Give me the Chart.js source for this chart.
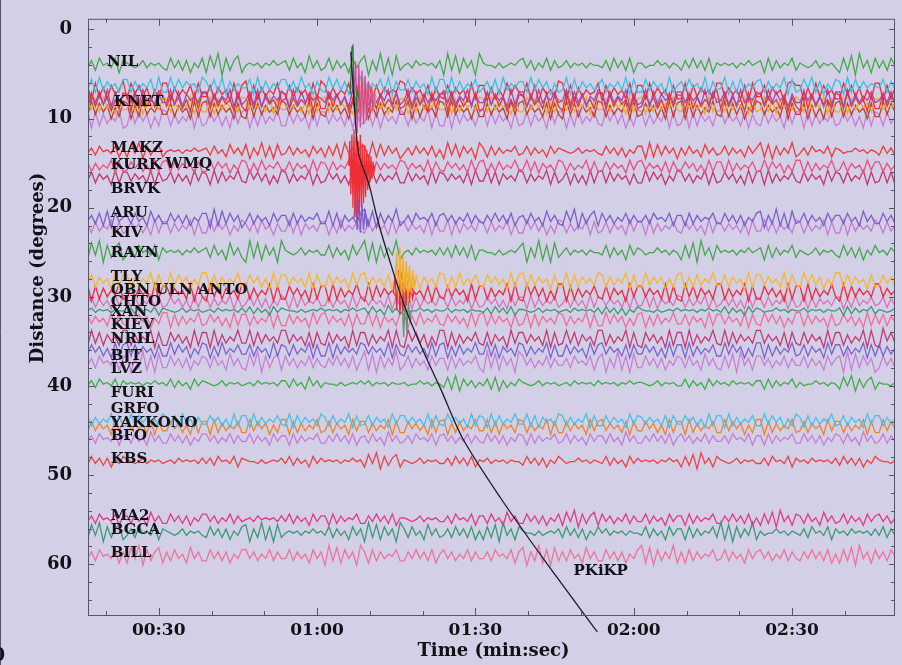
<!DOCTYPE html>
<html>
<head>
<meta charset="utf-8">
<title>PKiKP record section</title>
<script src="https://cdn.jsdelivr.net/npm/chart.js@4.4.1/dist/chart.umd.min.js"></script>
<style>
  html, body { margin: 0; padding: 0; background: #d3cfe7; }
  canvas { display: block; }
</style>
</head>
<body>
<canvas id="seismo" width="902" height="665"></canvas>
<script>
// Traces: one string of samples per station, a digit per 0.75 s (4.5 = baseline)
const sampleStart = 16.5;
const sampleStep = 0.75;

const traceNames = ['NIL', 'KNET1', 'KNET2', 'KNET3', 'KNET4', 'KNET5', 'KNET6', 'KNET7',
  'MAKZ', 'KURK', 'WMQ', 'ARU', 'KIV', 'RAYN', 'TLY', 'OBN', 'CHTO', 'XAN', 'KIEV',
  'NRIL', 'BJT', 'LVZ', 'FURI', 'GRFO', 'YAKKONO', 'BFO', 'KBS', 'MA2', 'BGCA', 'BILL'];

// distance of each trace (degrees)
const traceDistance = [3.9, 6.2, 6.9, 7.6, 8.0, 8.4, 8.9, 9.9,
  13.6, 15.3, 16.5, 21.2, 22.1, 24.9, 28.1, 29.4, 30.5, 31.5, 32.5,
  34.6, 35.9, 37.3, 39.7, 43.8, 44.5, 45.9, 48.4, 54.9, 56.4, 59.0];

// degrees per digit step
const traceGain = [0.27, 0.24, 0.25, 0.24, 0.25, 0.24, 0.25, 0.26,
  0.2, 0.18, 0.2, 0.23, 0.21, 0.27, 0.23, 0.24, 0.19, 0.16, 0.21,
  0.24, 0.21, 0.26, 0.19, 0.19, 0.21, 0.21, 0.2, 0.21, 0.24, 0.25];

const traceWaves = [
  '6372546283 4565364546 7263738462 8160927318 5454645354 3726481637 6273648263 1937082917 5463545463 9071826390 4556465453 2637462736 5364546455 6372637284 4655354645 7362637284 5454645354 3827364527 4565364546 8271906382 6372546283',
  '7281736482 2837462918 8172635481 3728193746 6291837462 2738164937 8162739481 3746281937 7283649182 2918374628 6382917463 3817263948 7192836475 2846371928 8273649185 3726481937 6193827463 2837461928 7261839472 3918273645 6283749182',
  '2917382640 8162739481 1937462817 7283649182 0928374619 8273649180 2837461928 9182736450 1736482937 8273649182 2938471625 7182936470 1829374651 9273648192 2817364928 8192736481 1736482917 7283649102 2938172648 8162739481 1928374618',
  '6372819264 3728164937 7182936472 2837461928 6281937462 3918273645 7263849172 2847361928 6192837463 3728461937 7283649182 2938174627 6182739461 3827461938 7192836472 2736481927 6283917462 3817264937 7263849182 2918374627 6372819264',
  '8172639481 2918374602 7263849181 1827364927 9182736480 2837461928 8172639471 1938274618 7283649182 0928374619 8162739482 2736481927 9183726481 1827364928 7263849172 2918374610 8273649182 1736482937 9082736481 2817364928 8172639471',
  '3728164937 7182936472 2837461928 8192736481 2736481927 7263849182 1827364928 8273649172 2938174627 7192836471 2817364938 8172639482 3728461927 7283649182 1938274617 8263749182 2837461928 7182936471 3827461928 8192736482 2736481937',
  '8172639481 2938174627 7283649182 1827364928 9182736471 2736481927 8263749182 1938274617 7192836481 2817364938 8273649172 1736482927 9172836481 2837461918 7263849182 1928374617 8182739461 2736481927 7293849182 1827364928 8172639471',
  '1928374619 8172639481 2837461928 7263849172 1938274618 8273649182 2736481937 7182936471 3827461928 8192736482 1827364928 7283649172 2938174627 8162739481 2837461928 7192836482 1736482937 8273649172 2918374628 7263849182 3827461937',
  '6372546283 8160927318 5454645354 3726481637 1937082917 6273648263 8271906382 2908172639 6372637284 9071826390 3827364527 6273648263 4565364546 7263738462 2908172639 3726481637 6273648263 0819273608 6372546283 4655354645 7263738462',
  '2837461928 7263849182 1827364928 8172639471 2938174627 7283649182 3827461928 8192736471 2736481927 8263749182 1938274617 7182936481 2837461928 8273649172 1736482927 7263849182 2918374628 8172639481 1928374618 7283649172 2837461928',
  '7283649182 2736481927 6283749172 3918274617 8162739481 2837461938 7263849172 1928374628 8273649182 3736482917 7182936471 2837461928 6293849182 1827364938 8172639471 2738461928 7263849182 1918374627 8273649172 3827461928 7182936481',
  '6372819264 3726481637 7263738462 2908172639 6273648263 3827364527 7182936472 0819273608 6372546283 2637462736 7362637284 3726481637 8160927318 2637462736 6372546283 3827364527 7263738462 1937082917 6273648263 3726481637 7263738462',
  '3827461928 7263849182 2837461928 8172639471 3728164937 7182936472 2938174627 8273649182 2736481927 7192836471 3827461938 8162739481 2837461928 7283649172 2918374627 8263749182 3736482917 7172836481 2837461928 8192736471 3827461928',
  '8160927318 6372546283 5454645354 3726481637 9071826390 4565364546 6273648263 0819273608 5463545463 6372637284 4556465453 1937082917 5364546455 6273648263 4655354645 8271906382 5454645354 3827364527 4565364546 7263738462 5463545463',
  '7283649182 2837461928 8172639471 1928374618 7263849182 2736481927 8273649172 1836482917 7182936481 2938174627 8263749182 1827364928 7192836471 2837461928 8173639482 1938274617 7283649182 2736481927 8162739471 1827364928 7263849182',
  '1928374618 8273649182 2736481927 9172836481 1837461928 8263749182 2918374617 9182736471 1736482927 8273649182 2837461918 9162739481 1928374627 8283649172 2736481928 9172836481 1837461928 8263749182 2918374617 9182736471 1736482927',
  '6283749172 3827461928 7263849182 2837461928 6172839471 3918274627 7283649182 2736481927 6192836471 3827461938 7263849172 2918374628 6283749182 3736482917 7182936471 2837461928 6273849182 3827461928 7192836472 2938174627 6283749182',
  '5364546455 6372546283 4565364546 5463545463 6273648263 4556465453 5454645354 3726481637 4655354645 5364546455 6372637284 4565364546 5463545463 7263738462 4556465453 5454645354 6273648263 4655354645 5364546455 3827364527 4565364546',
  '2736481927 8172639471 1928374618 7263849182 2837461928 8273649172 1736482927 7182936481 2938174627 8263749182 1827364928 7192836471 2837461928 8172639482 1938274617 7283649182 2736481927 8162739471 1827364928 7263849182 7283649182',
  '9172836481 1837461928 8263749182 2918374617 7182736471 1736482927 8273649182 2837461918 9162739481 1928374627 8283649172 2736481928 7172836481 1837461928 9263749182 2918374617 8182736471 1736482927 8273649182 2837461918 9062739481',
  '7263849182 1827364928 8172639471 2938174627 7283649182 3827461928 8192736471 2736481927 8263749182 1938274617 7182936481 2837461928 8273649172 1736482927 7263849182 2918374628 8172639481 1928374618 7283649172 2837461928 2837461928',
  '6372546283 1937082917 7263738462 3726481637 8160927318 2637462736 7362637284 0819273608 6273648263 3827364527 9071826390 2637462736 6372546283 1937082917 7263738462 3726481637 8271906382 2637462736 6273648263 2908172639 7263738462',
  '6372546283 5454645354 6273648263 4565364546 5463545463 3726481637 4556465453 5364546455 4655354645 7180926374 6281937462 4565364546 5463545463 5454645354 4565364546 6273648263 5463545463 3827364527 4655354645 8160927318 4556465453',
  '2837461928 8172639471 3728164937 7263849182 2918374627 8192736481 3827461928 7283649172 2736481927 8163749182 3918274617 7182936481 2837461928 8273649172 3736482927 7263849182 2918374628 8172639481 3928374618 7283649172 2837461928',
  '8273649172 1736482927 7263849182 2918374628 8172639481 1928374618 7283649172 2837461928 8263749182 1938274617 7182936481 2837461928 8273649172 1736482927 7263849182 2918374628 8172639481 1928374618 7283649172 2837461928 8172639481',
  '6372546283 3726481637 7263738462 2637462736 6273648263 3827364527 7362637284 3726481637 6372546283 2637462736 7263738462 3827364527 6273648263 3726481637 7362637284 2637462736 6372546283 3827364527 7263738462 3726481637 6273648263',
  '7263738462 4565364546 5463545463 6372546283 4556465453 6273648263 5454645354 8160927318 4565364546 6372637284 5364546455 7263738462 4655354645 6273648263 5454645354 8271906382 4565364546 6372546283 5463545463 7263738462 4556465453',
  '6372546283 3726481637 7263738462 2637462736 5463545463 6273648263 3827364527 7362637284 4565364546 6372546283 3726481637 7263738462 8160927318 2637462736 6273648263 3827364527 7362637284 8271906382 3726481637 6273648263 2637462736',
  '8160927318 6372546283 4565364546 7263738462 1937082917 5454645354 6273648263 9071826390 3726481637 6372637284 8271906382 4556465453 7263738462 5364546455 6273648263 3827364527 0819273608 4655354645 6372546283 5463545463 6273648263',
  '6372546283 8160927318 3726481637 7263738462 2637462736 6273648263 9071826390 3827364527 7362637284 2637462736 6372546283 1937082917 3726481637 7263738462 0819273608 3827364527 6273648263 2637462736 7362637284 8271906382 6372546283'
];

const traceColors = ['#45a84a', '#3dbfe4', '#ee2a3a', '#9c4cb8', '#e43538', '#f3a72a', '#c2402a', '#c97cd6',
  '#ee3c3c', '#eb5080', '#c2376e', '#7b5dce', '#c67ad2', '#46a64c', '#f7b62c', '#ef2b3d', '#d873b6', '#3c9a6f', '#f26e98',
  '#c43a72', '#7c62d0', '#c97fd4', '#3fae48', '#44c1e4', '#f0842a', '#c87bd4', '#ec4444', '#e33b82', '#3a9a72', '#f2729c'];

// Arrivals [time s, distance deg]
const knetSpike = [[66.3, 7.2], [66.6, 2.0], [66.8, 1.8], [67.0, 8.6], [67.3, 9.4], [67.6, 6.8], [67.9, 7.6]];
const knetPulse = [[67.0, 7.0], [67.3, 3.6], [67.6, 11.6], [67.9, 4.0], [68.2, 11.0], [68.5, 4.6], [68.8, 10.6],
  [69.1, 5.2], [69.4, 10.2], [69.7, 5.8], [70.0, 9.4], [70.3, 6.4], [70.6, 8.8], [71.0, 7.2]];
const knetGold = [[67.6, 8.0], [68.0, 5.0], [68.4, 10.0], [68.8, 5.4], [69.2, 9.6], [69.6, 6.0], [70.0, 9.0],
  [70.4, 6.5], [70.8, 8.6], [71.2, 7.5]];
const redPulse = [[66.0, 15.3], [66.2, 12.5], [66.4, 18.5], [66.6, 11.8], [66.8, 20.0], [67.0, 11.2], [67.2, 21.0],
  [67.4, 12.0], [67.6, 21.4], [67.8, 12.5], [68.0, 20.8], [68.2, 11.8], [68.4, 20.0], [68.6, 12.8], [68.8, 19.5],
  [69.0, 13.0], [69.2, 18.8], [69.4, 13.5], [69.6, 18.0], [69.8, 14.0], [70.0, 17.2], [70.2, 14.2], [70.4, 16.8],
  [70.6, 14.8], [70.8, 16.0], [71.0, 15.3]];
const aruPulse = [[67.0, 21.2], [67.3, 18.5], [67.6, 22.5], [67.9, 19.0], [68.2, 22.8], [68.5, 19.5], [68.8, 22.5],
  [69.1, 20.2], [69.4, 22.0], [69.7, 21.2]];
const tlyPulse = [[74.8, 28.0], [75.1, 25.0], [75.4, 30.0], [75.7, 24.4], [76.0, 30.5], [76.3, 25.5], [76.6, 29.5],
  [76.9, 26.0], [77.2, 30.5], [77.5, 26.5], [77.8, 29.5], [78.1, 27.0], [78.4, 29.0], [78.7, 28.1]];
const obnPulse = [[74.5, 29.4], [74.8, 27.5], [75.1, 31.5], [75.4, 27.0], [75.7, 32.0], [76.0, 27.3], [76.3, 31.5],
  [76.6, 27.8], [76.9, 31.0], [77.2, 28.2], [77.5, 30.6], [77.8, 28.5], [78.1, 30.2], [78.4, 29.4]];
const xanPulse = [[75.8, 31.5], [76.1, 29.5], [76.4, 34.5], [76.7, 29.8], [77.0, 34.0], [77.3, 30.5], [77.6, 32.5], [77.9, 31.5]];

// PKiKP travel-time curve
const pkikpTime = [66.4, 67.0, 67.9, 69.8, 71.5, 73.9, 76.8, 80.2, 83.4, 87.6, 94.8, 102.9, 113.1];
const pkikpDeg = [2.5, 8.0, 14.0, 17.3, 21.4, 26.2, 31.4, 36.2, 40.3, 45.9, 52.6, 59.4, 67.6];

// Station labels
const labelNames = ['NIL', 'KNET', 'MAKZ', 'KURK', 'WMQ', 'BRVK', 'ARU', 'KIV', 'RAYN', 'TLY', 'OBN ULN ANTO',
  'CHTO', 'XAN', 'KIEV', 'NRIL', 'BJT', 'LVZ', 'FURI', 'GRFO', 'YAKKONO', 'BFO', 'KBS', 'MA2', 'BGCA', 'BILL'];
const labelTime = [20.2, 21.5, 20.9, 20.9, 31.3, 20.9, 20.9, 20.9, 20.9, 20.9, 20.9,
  20.9, 20.9, 20.9, 20.9, 20.9, 20.9, 20.9, 20.9, 20.9, 20.9, 20.9, 20.9, 20.9, 20.9];
const labelDeg = [3.7, 8.2, 13.3, 15.2, 15.1, 17.9, 20.6, 22.8, 25.1, 27.8, 29.2,
  30.6, 31.7, 33.2, 34.7, 36.6, 38.1, 40.8, 42.6, 44.2, 45.6, 48.2, 54.6, 56.2, 58.8];

const xTicks = [20, 30, 40, 50, 60, 70, 80, 90, 100, 110, 120, 130, 140, 150, 160];
const yTicks = [0, 2, 4, 6, 8, 10, 12, 14, 16, 18, 20, 22, 24, 26, 28, 30, 32, 34, 36, 38, 40,
  42, 44, 46, 48, 50, 52, 54, 56, 58, 60, 62, 64];

const serif = '"DejaVu Serif", "Liberation Serif", serif';
const ink = '#111116';

function decode(str, base, gain) {
  const s = str.replace(/\s/g, '');
  return Array.from(s, (c, i) => ({ x: sampleStart + i * sampleStep, y: base + (Number(c) - 4.5) * gain }));
}
const pairs = arr => arr.map(p => ({ x: p[0], y: p[1] }));

const datasets = [];
datasets.push({
  label: 'PKiKP',
  data: pkikpTime.map((t, i) => ({ x: t, y: pkikpDeg[i] })),
  borderColor: '#1c1c28', borderWidth: 1.3, tension: 0.3, clip: false
});
[[knetSpike, '#2f7a34'], [knetPulse, '#d24a9c'], [knetGold, '#f3a72a'], [redPulse, '#ee2e36'],
 [aruPulse, '#7b5dce'], [tlyPulse, '#f4ae22'], [obnPulse, '#ee2a3a'], [xanPulse, '#6f8d70']]
  .forEach(([arr, col]) => datasets.push({ label: 'arrival', data: pairs(arr), borderColor: col, borderWidth: 1.3 }));
traceNames.forEach((name, i) => {
  datasets.push({
    label: name,
    data: decode(traceWaves[i], traceDistance[i], traceGain[i]),
    borderColor: traceColors[i],
    borderWidth: 1.3
  });
});

const frame = {
  id: 'frame',
  beforeDraw(chart) {
    const { ctx, width, height } = chart;
    ctx.save();
    ctx.fillStyle = '#d3cfe7';
    ctx.fillRect(0, 0, width, height);
    ctx.restore();
  },
  afterDatasetsDraw(chart) {
    const { ctx, chartArea: a, scales: { x, y } } = chart;
    ctx.save();
    ctx.strokeStyle = '#55556a';
    ctx.lineWidth = 1;
    ctx.strokeRect(a.left + 0.5, a.top + 0.5, a.right - a.left - 1, a.bottom - a.top);
    ctx.beginPath();
    xTicks.forEach(v => {
      const px = Math.round(x.getPixelForValue(v)) + 0.5;
      const len = v % 30 === 0 ? 7 : 4;
      ctx.moveTo(px, a.bottom); ctx.lineTo(px, a.bottom - len);
      ctx.moveTo(px, a.top); ctx.lineTo(px, a.top + len);
    });
    yTicks.forEach(v => {
      const py = Math.round(y.getPixelForValue(v)) + 0.5;
      const len = v % 10 === 0 ? 6 : 4;
      ctx.moveTo(a.left, py); ctx.lineTo(a.left + len, py);
      ctx.moveTo(a.right, py); ctx.lineTo(a.right - len, py);
    });
    // left edge of the page
    ctx.moveTo(0.5, 0); ctx.lineTo(0.5, chart.height);
    ctx.stroke();

    ctx.fillStyle = ink;
    ctx.textBaseline = 'middle';
    ctx.textAlign = 'left';
    ctx.font = 'bold 15px ' + serif;
    labelNames.forEach((n, i) => ctx.fillText(n, x.getPixelForValue(labelTime[i]), y.getPixelForValue(labelDeg[i])));
    ctx.fillText('PKiKP', x.getPixelForValue(108.6), y.getPixelForValue(60.8));

    ctx.font = 'bold 18px ' + serif;
    ctx.textAlign = 'center';
    ctx.fillText('Time (min:sec)', (a.left + a.right) / 2 + 2, a.bottom + 36);
    ctx.save();
    ctx.translate(38, 268);
    ctx.rotate(-Math.PI / 2);
    ctx.fillText('Distance (degrees)', 0, 0);
    ctx.restore();
    ctx.textAlign = 'right';
    ctx.fillText('0', 5, 656);
    ctx.restore();
  }
};

const mmss = v => String(Math.floor(v / 60)).padStart(2, '0') + ':' + String(v % 60).padStart(2, '0');

new Chart(document.getElementById('seismo'), {
  type: 'line',
  data: { datasets },
  plugins: [frame],
  options: {
    responsive: false,
    animation: false,
    events: [],
    layout: { padding: { top: 13, right: 7, bottom: 0, left: 0 } },
    elements: { point: { radius: 0 }, line: { tension: 0 } },
    plugins: { legend: { display: false }, tooltip: { enabled: false } },
    scales: {
      x: {
        type: 'linear',
        min: 16.6,
        max: 169.5,
        grid: { display: false },
        border: { display: false },
        afterBuildTicks: s => { s.ticks = xTicks.map(v => ({ value: v })); },
        afterFit: s => { s.height = 50; },
        ticks: {
          autoSkip: false, maxRotation: 0, padding: -3, color: ink,
          font: { family: serif, size: 17, weight: 'bold' },
          callback: v => (v % 30 === 0 ? mmss(v) : '')
        }
      },
      y: {
        type: 'linear',
        reverse: true,
        min: -1.2,
        max: 65.7,
        grid: { display: false },
        border: { display: false },
        afterBuildTicks: s => { s.ticks = yTicks.map(v => ({ value: v })); },
        afterFit: s => { s.width = 88; },
        ticks: {
          autoSkip: false, padding: 8, color: ink,
          font: { family: serif, size: 18, weight: 'bold' },
          callback: v => (v % 10 === 0 ? String(v) : '')
        }
      }
    }
  }
});
</script>
</body>
</html>
